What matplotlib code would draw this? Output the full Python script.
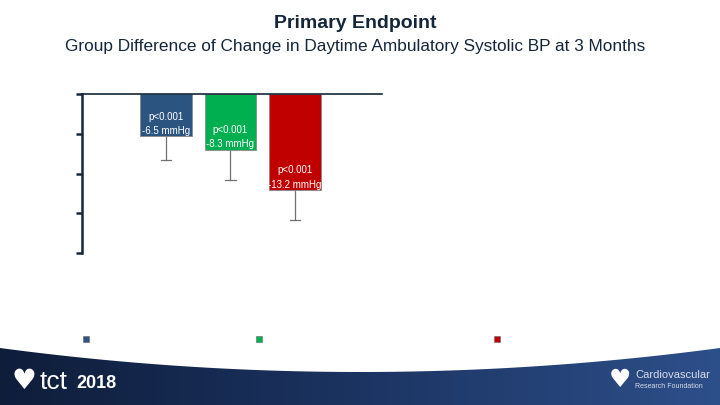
import numpy as np
import matplotlib
matplotlib.use('Agg')
import matplotlib.pyplot as plt
from matplotlib.patches import Rectangle, Polygon
from matplotlib.colors import LinearSegmentedColormap

plt.rcParams["font.family"] = ["Liberation Sans", "DejaVu Sans"]

groups = ['group 1', 'group 2', 'group 3']
heights = [-6.4, -8.4, -14.5]
err_low = [-10.0, -13.0, -19.0]
p_labels = ['p<0.001', 'p<0.001', 'p<0.001']
diff_labels = ['-6.5 mmHg', '-8.3 mmHg', '-13.2 mmHg']
colors = ['#2b5580', '#00b050', '#c00000']

W, H = 720, 405
fig = plt.figure(figsize=(7.2, 4.05), dpi=100)


def px(x0, y0, x1, y1):
    # pixel box -> figure fraction rect
    return [x0 / W, 1 - y1 / H, (x1 - x0) / W, (y1 - y0) / H]


navy = '#14273a'
fig.text(355 / W, 1 - 24 / H, 'Primary Endpoint', ha='center', va='center',
         fontsize=14, fontweight='bold', color=navy)
fig.text(355 / W, 1 - 47 / H,
         'Group Difference of Change in Daytime Ambulatory Systolic BP at 3 Months',
         ha='center', va='center', fontsize=12.4, color=navy)

ax = fig.add_axes(px(82, 94, 382, 253))
x = np.arange(len(groups))
ax.bar(x, heights, width=0.8, color=colors, edgecolor='#8a8a8a', linewidth=0.6, zorder=2)
for xi, h, lo in zip(x, heights, err_low):
    ax.plot([xi, xi], [h, lo], color='#707070', lw=0.9, zorder=1)
    ax.plot([xi - 0.08, xi + 0.08], [lo, lo], color='#707070', lw=0.9, zorder=1)
for xi, h, p, d in zip(x, heights, p_labels, diff_labels):
    ax.text(xi, h + 0.8, d, ha='center', va='center', fontsize=7, color='white', zorder=3)
    ax.text(xi, h + 3.0, p, ha='center', va='center', fontsize=7, color='white', zorder=3)

ax.set_xlim(-1.30, 3.35)
ax.set_ylim(-24, 0)
ax.set_yticks(np.arange(-24, 1, 6))
ax.set_yticklabels([])
ax.set_xticks([])
for s in ['right', 'bottom']:
    ax.spines[s].set_visible(False)
ax.spines['left'].set_color(navy)
ax.spines['left'].set_linewidth(1.8)
ax.spines['top'].set_color(navy)
ax.spines['top'].set_linewidth(1.2)
ax.tick_params(axis='y', length=4, width=1.8, color=navy, direction='out')

# legend markers (labels blank in original)
for cx, c in zip([86, 259, 497], colors):
    fig.patches.append(Rectangle(((cx - 3) / W, 1 - (339 + 3) / H), 6 / W, 6 / H,
                                 transform=fig.transFigure, facecolor=c,
                                 edgecolor='#666666', linewidth=0.4))

# footer band with curved top edge
bg = fig.add_axes([0, 0, 1, 1], zorder=-1)
bg.set_xlim(0, W)
bg.set_ylim(H, 0)
bg.axis('off')
grad = np.linspace(0, 1, 256).reshape(1, -1)
cmap = LinearSegmentedColormap.from_list('band', ['#0e1d3a', '#1c3462', '#2d4f8a'])
im = bg.imshow(grad, extent=[0, W, H, 345], cmap=cmap, aspect='auto')
xs = np.linspace(0, W, 200)
top = 372 - 24 * ((xs - 360) / 360) ** 2
clip = Polygon(np.column_stack([np.r_[xs, W, 0], np.r_[top, H, H]]), closed=True,
               transform=bg.transData)
im.set_clip_path(clip)

fig.text(40 / W, 1 - 382 / H, 'tct', fontsize=19, color='white', va='center', ha='left')
fig.text(76 / W, 1 - 384 / H, '2018', fontsize=13, color='white', va='center', ha='left',
         fontweight='bold')
fig.text(24 / W, 1 - 381 / H, '\u2665', fontsize=20, color='white', va='center', ha='center',
         family='DejaVu Sans')
fig.text(620 / W, 1 - 380 / H, '\u2665', fontsize=18, color='white', va='center', ha='center',
         family='DejaVu Sans')
fig.text(635 / W, 1 - 375 / H, 'Cardiovascular', fontsize=8, color='#d8dde8', va='center', ha='left')
fig.text(635 / W, 1 - 387 / H, 'Research Foundation', fontsize=5, color='#d8dde8', va='center', ha='left')

fig.savefig('out.png', dpi=100)
